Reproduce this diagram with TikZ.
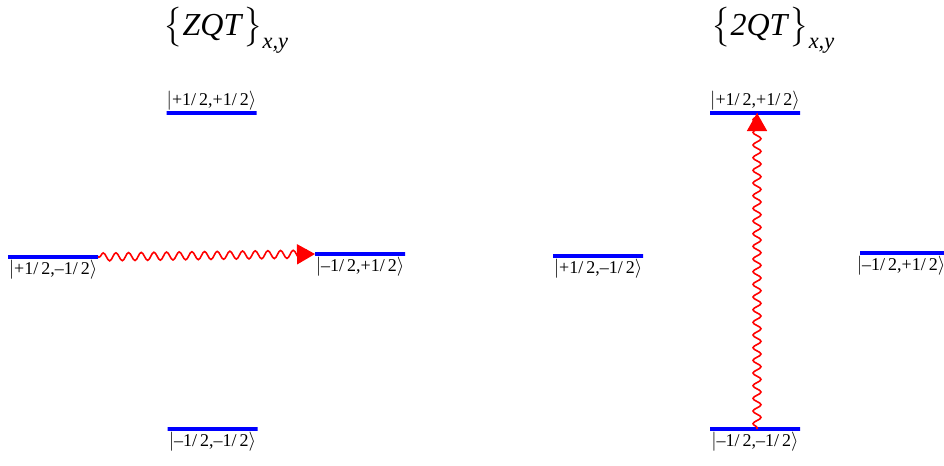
\documentclass[tikz,border=0pt]{standalone}
\usepackage{amsmath}
\usepackage{fontspec}
\setmainfont{Liberation Serif}
\usetikzlibrary{arrows.meta,positioning,decorations.pathmorphing}

\newcommand{\ketlbl}[1]{$|$#1$\rangle$}
\newcommand{\cohlbl}[1]{$\bigl\{$\textit{#1}$\bigr\}_{\textit{x,y}}$}

\begin{document}
\begin{tikzpicture}[x=0.75pt,y=-0.75pt,font=\fontsize{13.5}{15}\selectfont,
 level/.style={draw=blue,line width=2.6pt,minimum width=67.5pt,minimum height=0pt,inner sep=0pt,outer sep=0pt},
 ket/.style={inner sep=1pt},
 title/.style={font=\fontsize{24}{28}\selectfont,anchor=west,inner sep=0pt},
 wave/.style={red,line width=1.2pt,decorate,
   decoration={snake,amplitude=3pt,segment length=9.5pt,pre length=1pt,post length=1pt},
   -{Triangle[length=13.5pt,width=15pt]}}]
\useasboundingbox (0,0) rectangle (944,465);

% zero-quantum transition
\node[title] (zqt) at (163,30) {\cohlbl{ZQT}};
\node[level] (zq top) at (211.5,113) {};
\node[level] (zq left) at (53,257) {};
\node[level] (zq right) at (360,254) {};
\node[level] (zq bot) at (212.5,429) {};
\node[ket,above=1pt of zq top] {\ketlbl{+1/\,2,+1/\,2}};
\node[ket,below=1pt of zq left] {\ketlbl{+1/\,2,–1/\,2}};
\node[ket,below=1pt of zq right] {\ketlbl{–1/\,2,+1/\,2}};
\node[ket,below=1pt of zq bot] {\ketlbl{–1/\,2,–1/\,2}};
\draw[wave] (zq left.east) -- (zq right.west);

% double-quantum transition
\node[title] (dqt) at (711,30) {\cohlbl{2QT}};
\node[level] (dq top) at (755,113) {};
\node[level] (dq left) at (598,256) {};
\node[level] (dq right) at (905,253) {};
\node[level] (dq bot) at (755,429) {};
\node[ket,above=1pt of dq top] {\ketlbl{+1/\,2,+1/\,2}};
\node[ket,below=1pt of dq left] {\ketlbl{+1/\,2,–1/\,2}};
\node[ket,below=1pt of dq right,xshift=-3pt] {\ketlbl{–1/\,2,+1/\,2}};
\node[ket,below=1pt of dq bot] {\ketlbl{–1/\,2,–1/\,2}};
\draw[wave] ([xshift=1.5pt]dq bot.center) -- ([xshift=1.5pt]dq top.center);
\end{tikzpicture}
\end{document}
